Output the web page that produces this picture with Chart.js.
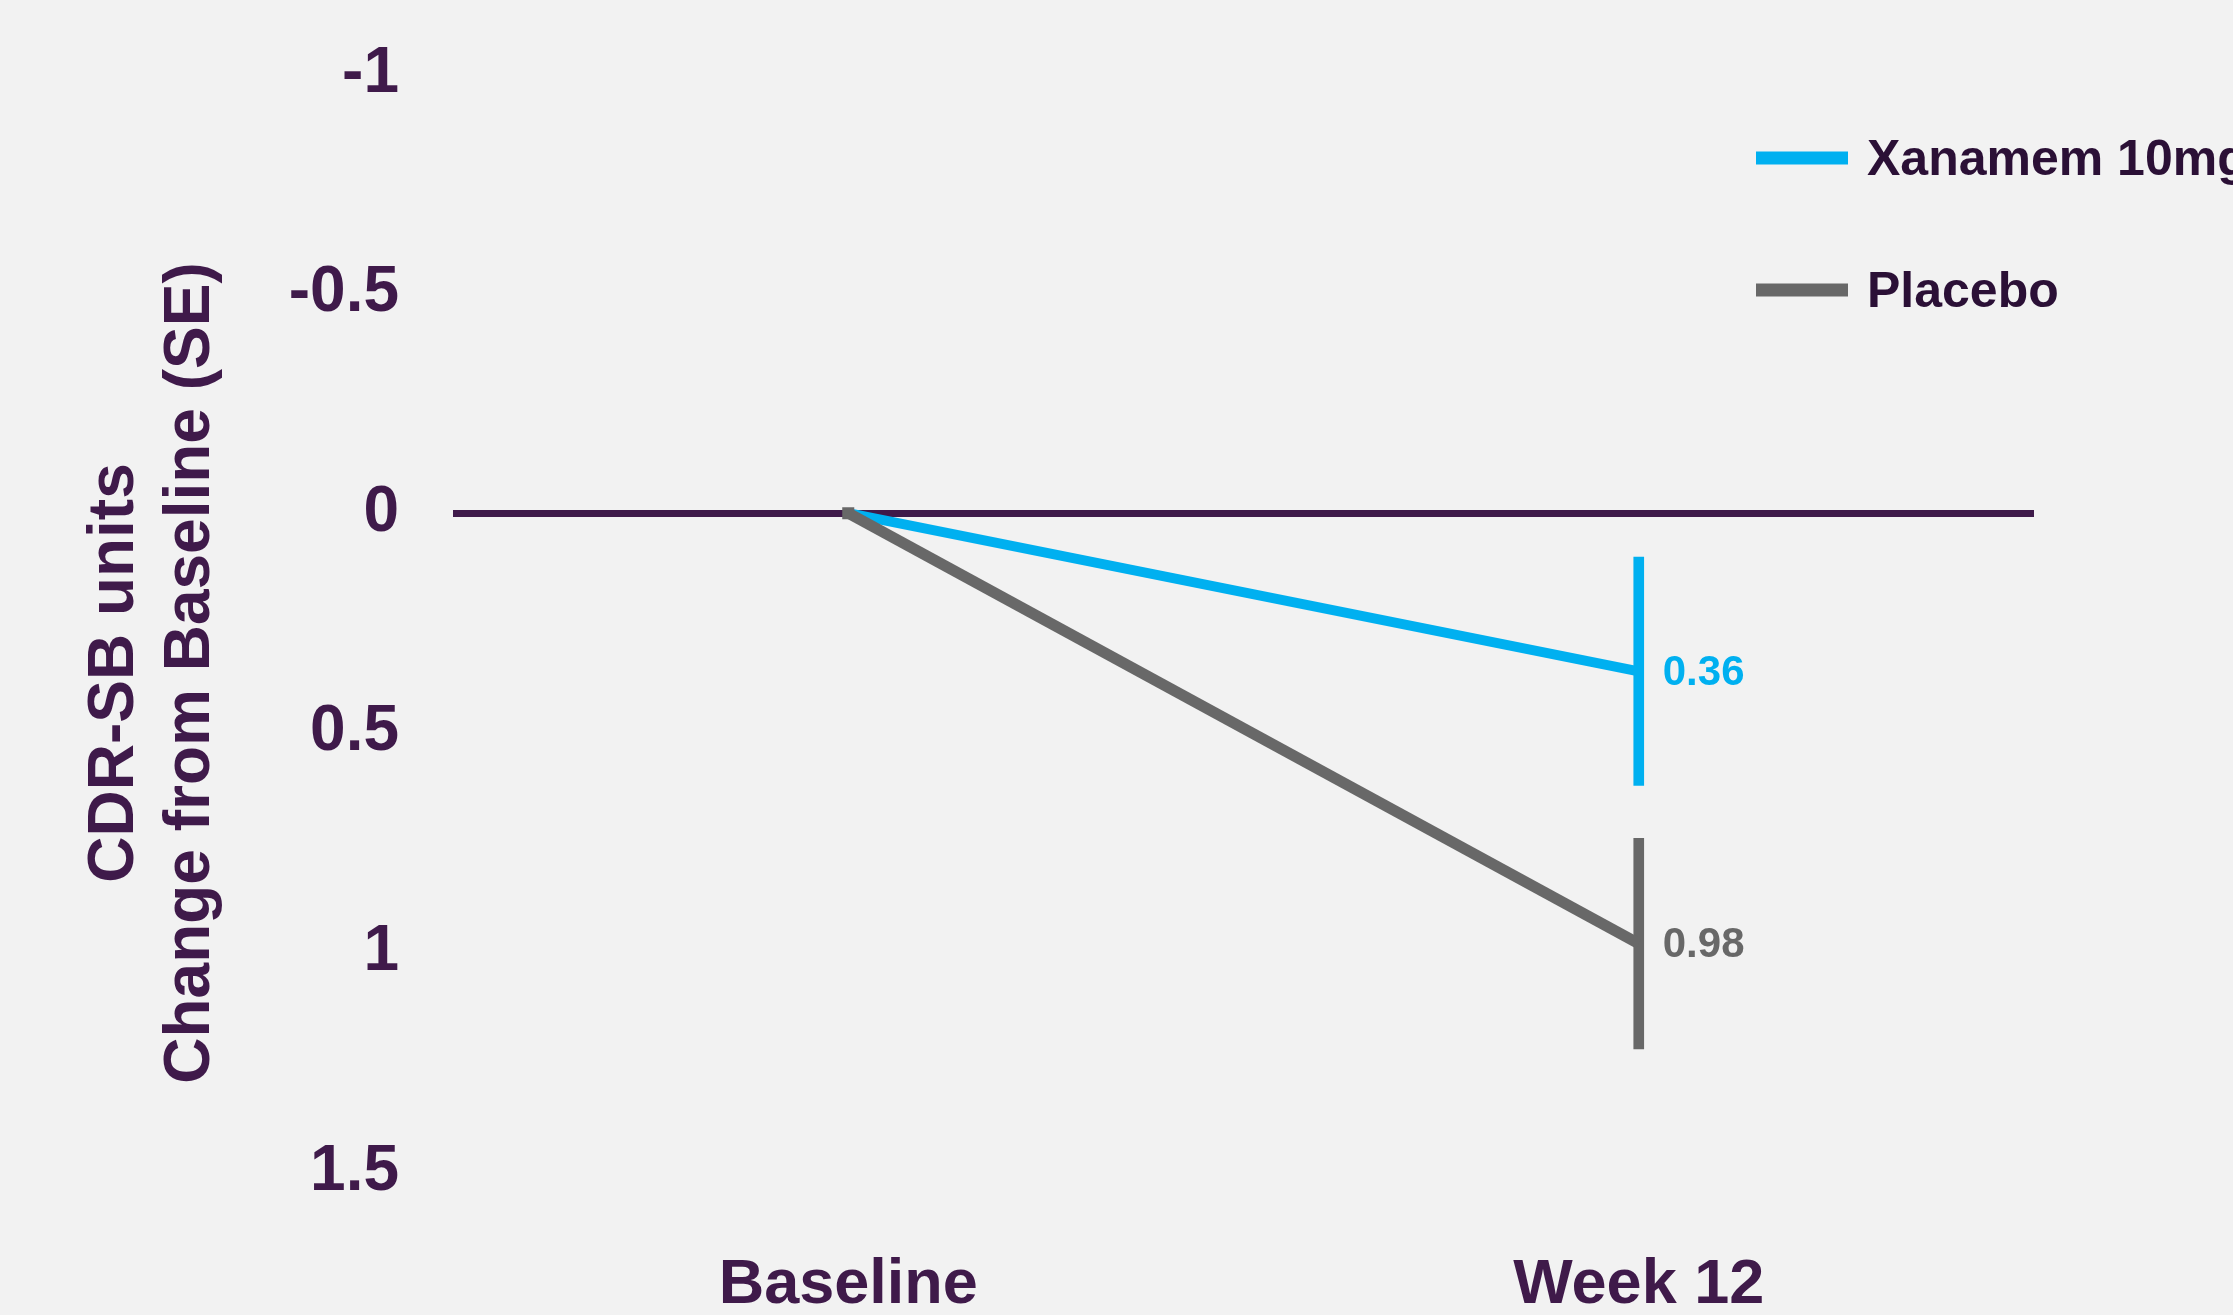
<!DOCTYPE html>
<html>
<head>
<meta charset="utf-8">
<script src="https://cdn.jsdelivr.net/npm/chart.js@4.4.1/dist/chart.umd.min.js"></script>
<style>
  html, body { margin: 0; padding: 0; background: #f2f2f2; }
  #wrap { width: 2233px; height: 1315px; position: relative; }
</style>
</head>
<body>
<div id="wrap"><canvas id="cdrChart"></canvas></div>
<script>
const categories = ["Baseline", "Week 12"];
const xanamemMean = [0, 0.36];
const xanamemSE = [0, 0.26];
const placeboMean = [0, 0.98];
const placeboSE = [0, 0.24];
const yTicks = [-1, -0.5, 0, 0.5, 1, 1.5];
const yTickLabels = ["-1", "-0.5", "0", "0.5", "1", "1.5"];
const seriesNames = ["Xanamem 10mg", "Placebo"];
const titleLines = ["CDR-SB units", "Change from Baseline (SE)"];

const purple = "#3f1a4a";
const blue = "#00b0f0";
const grey = "#686868";
const fontFamily = "'Liberation Sans', Arial, sans-serif";

// floating bars give the SE whiskers
const errorRange = (mean, se) =>
  mean.map((m, i) => (se[i] ? [m - se[i], m + se[i]] : null));

// value labels to the right of the last point
const valueLabels = {
  id: "valueLabels",
  afterDatasetsDraw(chart) {
    const ctx = chart.ctx;
    chart.data.datasets.forEach((ds, i) => {
      if (ds.type === "bar") return;
      const meta = chart.getDatasetMeta(i);
      const last = ds.data.length - 1;
      const pt = meta.data[last];
      ctx.save();
      ctx.font = "bold 42px " + fontFamily;
      ctx.fillStyle = ds.borderColor;
      ctx.textAlign = "left";
      ctx.textBaseline = "middle";
      ctx.fillText(ds.data[last].toFixed(2), pt.x + 24, pt.y + 2);
      ctx.restore();
    });
  },
};

// legend in the top right corner
const sideLegend = {
  id: "sideLegend",
  afterDraw(chart) {
    const ctx = chart.ctx;
    const lineYs = [158, 290];
    const textYs = [175, 307];
    let n = 0;
    chart.data.datasets.forEach((ds) => {
      if (ds.type === "bar") return;
      ctx.save();
      ctx.strokeStyle = ds.borderColor;
      ctx.lineWidth = 13;
      ctx.beginPath();
      ctx.moveTo(1756, lineYs[n]);
      ctx.lineTo(1848, lineYs[n]);
      ctx.stroke();
      ctx.font = "bold 50px " + fontFamily;
      ctx.fillStyle = "#2b1036";
      ctx.textBaseline = "alphabetic";
      ctx.fillText(ds.label, 1867, textYs[n]);
      ctx.restore();
      n++;
    });
  },
};

// two-line rotated y axis title
const yTitle = {
  id: "yTitle",
  afterDraw(chart) {
    const ctx = chart.ctx;
    const baselines = [133, 209];
    ctx.save();
    ctx.font = "bold 64px " + fontFamily;
    ctx.fillStyle = purple;
    ctx.textAlign = "center";
    ctx.textBaseline = "alphabetic";
    titleLines.forEach((t, i) => {
      ctx.save();
      ctx.translate(baselines[i], 673);
      ctx.rotate(-Math.PI / 2);
      ctx.fillText(t, 0, 0);
      ctx.restore();
    });
    ctx.restore();
  },
};

new Chart(document.getElementById("cdrChart"), {
  type: "line",
  data: {
    labels: categories,
    datasets: [
      {
        type: "bar",
        label: "Xanamem SE",
        data: errorRange(xanamemMean, xanamemSE),
        backgroundColor: blue,
        barThickness: 10,
        grouped: false,
        order: 4,
      },
      {
        type: "bar",
        label: "Placebo SE",
        data: errorRange(placeboMean, placeboSE),
        backgroundColor: grey,
        barThickness: 10,
        grouped: false,
        order: 3,
      },
      {
        label: seriesNames[0],
        data: xanamemMean,
        borderColor: blue,
        backgroundColor: blue,
        borderWidth: 10,
        pointRadius: 0,
        tension: 0,
        order: 2,
      },
      {
        label: seriesNames[1],
        data: placeboMean,
        borderColor: grey,
        backgroundColor: grey,
        borderWidth: 11,
        pointStyle: "rect",
        pointRadius: [8.5, 0],
        pointBorderWidth: 0,
        tension: 0,
        order: 1,
      },
    ],
  },
  options: {
    responsive: true,
    maintainAspectRatio: false,
    animation: false,
    layout: { padding: { top: 74, right: 199, left: 0, bottom: 0 } },
    plugins: {
      legend: { display: false },
      tooltip: { enabled: false },
    },
    scales: {
      x: {
        offset: true,
        grid: { display: false, drawTicks: false },
        border: { display: false },
        ticks: {
          color: purple,
          padding: 76,
          font: { family: fontFamily, size: 63, weight: "bold" },
        },
        afterFit: (s) => {
          s.height = 143;
          s.paddingLeft = 0;
          s.paddingRight = 0;
        },
      },
      y: {
        min: yTicks[0],
        max: yTicks[yTicks.length - 1],
        reverse: true,
        afterBuildTicks: (s) => { s.ticks = yTicks.map((v) => ({ value: v })); },
        grid: {
          drawTicks: false,
          color: (c) => (c.tick && c.tick.value === 0 ? purple : "rgba(0,0,0,0)"),
          lineWidth: (c) => (c.tick && c.tick.value === 0 ? 7 : 0),
        },
        border: { display: false },
        ticks: {
          color: purple,
          padding: 54,
          font: { family: fontFamily, size: 64, weight: "bold" },
          callback: (v) => yTickLabels[yTicks.indexOf(v)],
        },
        afterFit: (s) => {
          s.width = 453;
          s.paddingTop = 0;
          s.paddingBottom = 0;
        },
      },
    },
  },
  plugins: [valueLabels, sideLegend, yTitle],
});
</script>
</body>
</html>
